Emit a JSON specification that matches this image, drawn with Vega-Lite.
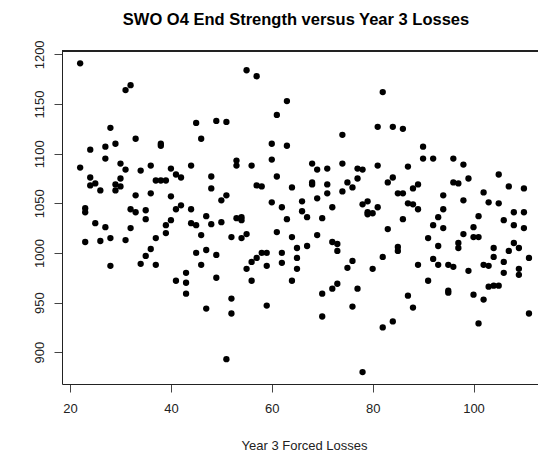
{
  "$schema": "https://vega.github.io/schema/vega-lite/v6.json",
  "width": 476,
  "height": 333,
  "autosize": {"type": "none"},
  "padding": {"left": 62, "top": 51, "right": 0, "bottom": 69},
  "background": "white",
  "title": {
    "text": "SWO O4 End Strength versus Year 3 Losses",
    "font": "Liberation Sans",
    "fontSize": 16.5,
    "fontWeight": "bold",
    "color": "#000000",
    "anchor": "middle",
    "baseline": "alphabetic",
    "offset": 16,
    "dx": -4,
    "dy": 18
  },
  "config": {
    "view": {"stroke": null},
    "axis": {
      "grid": false,
      "labelFont": "Liberation Sans",
      "labelFontSize": 13,
      "labelColor": "#222222",
      "titleFont": "Liberation Sans",
      "titleFontSize": 13,
      "titleFontWeight": "normal",
      "titleColor": "#222222",
      "domainColor": "#222222",
      "tickColor": "#444444",
      "tickSize": 8
    }
  },
  "data": {
    "values": [
      {"losses": 22, "strength": 1191}, {"losses": 31, "strength": 1164}, {"losses": 32, "strength": 1169},
      {"losses": 45, "strength": 1131}, {"losses": 46, "strength": 1115}, {"losses": 28, "strength": 1126},
      {"losses": 33, "strength": 1115}, {"losses": 24, "strength": 1104}, {"losses": 27, "strength": 1107},
      {"losses": 29, "strength": 1110}, {"losses": 38, "strength": 1110}, {"losses": 38, "strength": 1108},
      {"losses": 27, "strength": 1095}, {"losses": 22, "strength": 1086}, {"losses": 30, "strength": 1090},
      {"losses": 31, "strength": 1084}, {"losses": 34, "strength": 1083}, {"losses": 36, "strength": 1088},
      {"losses": 40, "strength": 1085}, {"losses": 41, "strength": 1079}, {"losses": 42, "strength": 1076},
      {"losses": 44, "strength": 1088}, {"losses": 24, "strength": 1076}, {"losses": 24, "strength": 1068},
      {"losses": 25, "strength": 1070}, {"losses": 26, "strength": 1063}, {"losses": 29, "strength": 1069},
      {"losses": 29, "strength": 1063}, {"losses": 30, "strength": 1075}, {"losses": 30, "strength": 1067},
      {"losses": 37, "strength": 1073}, {"losses": 38, "strength": 1073}, {"losses": 39, "strength": 1073},
      {"losses": 33, "strength": 1058}, {"losses": 36, "strength": 1060}, {"losses": 40, "strength": 1057},

      {"losses": 23, "strength": 1045}, {"losses": 23, "strength": 1041}, {"losses": 23, "strength": 1011},
      {"losses": 25, "strength": 1030}, {"losses": 26, "strength": 1012}, {"losses": 27, "strength": 1026},
      {"losses": 28, "strength": 1015}, {"losses": 28, "strength": 987}, {"losses": 31, "strength": 1013},
      {"losses": 32, "strength": 1044}, {"losses": 32, "strength": 1025}, {"losses": 33, "strength": 1041},
      {"losses": 35, "strength": 1043}, {"losses": 35, "strength": 1034}, {"losses": 34, "strength": 989},
      {"losses": 35, "strength": 997}, {"losses": 36, "strength": 1004}, {"losses": 37, "strength": 1015},
      {"losses": 37, "strength": 988}, {"losses": 39, "strength": 1028}, {"losses": 39, "strength": 1020},
      {"losses": 40, "strength": 1033}, {"losses": 41, "strength": 1044}, {"losses": 42, "strength": 1048},
      {"losses": 41, "strength": 972}, {"losses": 43, "strength": 980}, {"losses": 43, "strength": 970},
      {"losses": 43, "strength": 959}, {"losses": 44, "strength": 1044}, {"losses": 44, "strength": 1030},
      {"losses": 45, "strength": 1028}, {"losses": 46, "strength": 1018}, {"losses": 45, "strength": 1000},
      {"losses": 46, "strength": 988},

      {"losses": 55, "strength": 1184}, {"losses": 57, "strength": 1178}, {"losses": 63, "strength": 1153},
      {"losses": 61, "strength": 1139}, {"losses": 49, "strength": 1133}, {"losses": 51, "strength": 1132},
      {"losses": 74, "strength": 1119}, {"losses": 60, "strength": 1110}, {"losses": 63, "strength": 1108},
      {"losses": 53, "strength": 1093}, {"losses": 53, "strength": 1088}, {"losses": 56, "strength": 1088},
      {"losses": 60, "strength": 1094}, {"losses": 48, "strength": 1077}, {"losses": 48, "strength": 1065},
      {"losses": 51, "strength": 1058}, {"losses": 61, "strength": 1077}, {"losses": 57, "strength": 1068},
      {"losses": 58, "strength": 1067}, {"losses": 64, "strength": 1066}, {"losses": 68, "strength": 1090},
      {"losses": 69, "strength": 1084}, {"losses": 71, "strength": 1085}, {"losses": 74, "strength": 1090},
      {"losses": 77, "strength": 1085}, {"losses": 78, "strength": 1084}, {"losses": 77, "strength": 1075},
      {"losses": 75, "strength": 1071}, {"losses": 76, "strength": 1066}, {"losses": 74, "strength": 1062},
      {"losses": 68, "strength": 1071}, {"losses": 68, "strength": 1069}, {"losses": 71, "strength": 1069},
      {"losses": 71, "strength": 1060}, {"losses": 69, "strength": 1055},

      {"losses": 50, "strength": 1053}, {"losses": 60, "strength": 1051}, {"losses": 62, "strength": 1046},
      {"losses": 66, "strength": 1052}, {"losses": 72, "strength": 1046}, {"losses": 78, "strength": 1049},
      {"losses": 47, "strength": 1037}, {"losses": 48, "strength": 1029}, {"losses": 50, "strength": 1031},
      {"losses": 53, "strength": 1035}, {"losses": 54, "strength": 1036}, {"losses": 54, "strength": 1033},
      {"losses": 66, "strength": 1042}, {"losses": 67, "strength": 1036}, {"losses": 70, "strength": 1035},
      {"losses": 63, "strength": 1034}, {"losses": 52, "strength": 1016}, {"losses": 54, "strength": 1015},
      {"losses": 55, "strength": 1019}, {"losses": 61, "strength": 1021}, {"losses": 64, "strength": 1016},
      {"losses": 69, "strength": 1018}, {"losses": 72, "strength": 1011}, {"losses": 73, "strength": 1009},
      {"losses": 73, "strength": 1002}, {"losses": 67, "strength": 1007}, {"losses": 65, "strength": 1005},
      {"losses": 47, "strength": 1003}, {"losses": 49, "strength": 998}, {"losses": 49, "strength": 975},
      {"losses": 56, "strength": 991}, {"losses": 57, "strength": 995}, {"losses": 58, "strength": 1000},
      {"losses": 59, "strength": 1000}, {"losses": 55, "strength": 984}, {"losses": 56, "strength": 972},
      {"losses": 59, "strength": 987}, {"losses": 62, "strength": 1000}, {"losses": 62, "strength": 990},
      {"losses": 65, "strength": 995}, {"losses": 65, "strength": 984}, {"losses": 64, "strength": 972},
      {"losses": 76, "strength": 992}, {"losses": 75, "strength": 985}, {"losses": 77, "strength": 964},
      {"losses": 73, "strength": 969}, {"losses": 72, "strength": 964}, {"losses": 70, "strength": 959},
      {"losses": 76, "strength": 946}, {"losses": 70, "strength": 936}, {"losses": 52, "strength": 954},
      {"losses": 52, "strength": 939}, {"losses": 47, "strength": 944}, {"losses": 59, "strength": 947},
      {"losses": 51, "strength": 893}, {"losses": 78, "strength": 880},

      {"losses": 82, "strength": 1162}, {"losses": 81, "strength": 1127}, {"losses": 84, "strength": 1127},
      {"losses": 86, "strength": 1125}, {"losses": 90, "strength": 1107}, {"losses": 90, "strength": 1095},
      {"losses": 92, "strength": 1095}, {"losses": 96, "strength": 1095}, {"losses": 98, "strength": 1089},
      {"losses": 81, "strength": 1088}, {"losses": 87, "strength": 1087}, {"losses": 99, "strength": 1075},
      {"losses": 105, "strength": 1079}, {"losses": 107, "strength": 1067}, {"losses": 110, "strength": 1065},
      {"losses": 84, "strength": 1076}, {"losses": 83, "strength": 1071}, {"losses": 96, "strength": 1071},
      {"losses": 97, "strength": 1070}, {"losses": 88, "strength": 1065}, {"losses": 89, "strength": 1069},
      {"losses": 85, "strength": 1060}, {"losses": 86, "strength": 1060}, {"losses": 94, "strength": 1058},
      {"losses": 102, "strength": 1061},

      {"losses": 79, "strength": 1052}, {"losses": 79, "strength": 1041}, {"losses": 79, "strength": 1039},
      {"losses": 80, "strength": 1040}, {"losses": 81, "strength": 1046}, {"losses": 87, "strength": 1050},
      {"losses": 88, "strength": 1049}, {"losses": 89, "strength": 1044}, {"losses": 98, "strength": 1053},
      {"losses": 103, "strength": 1051}, {"losses": 105, "strength": 1050}, {"losses": 108, "strength": 1041},
      {"losses": 110, "strength": 1041}, {"losses": 94, "strength": 1044}, {"losses": 93, "strength": 1036},
      {"losses": 92, "strength": 1028}, {"losses": 94, "strength": 1025}, {"losses": 86, "strength": 1034},
      {"losses": 83, "strength": 1024}, {"losses": 101, "strength": 1037}, {"losses": 106, "strength": 1033},
      {"losses": 108, "strength": 1028}, {"losses": 110, "strength": 1025}, {"losses": 100, "strength": 1026},
      {"losses": 98, "strength": 1019}, {"losses": 100, "strength": 1016}, {"losses": 101, "strength": 1016},
      {"losses": 91, "strength": 1015}, {"losses": 97, "strength": 1010}, {"losses": 97, "strength": 1005},
      {"losses": 93, "strength": 1007}, {"losses": 85, "strength": 1006}, {"losses": 85, "strength": 1002},
      {"losses": 82, "strength": 996}, {"losses": 80, "strength": 984}, {"losses": 89, "strength": 988},
      {"losses": 92, "strength": 994}, {"losses": 93, "strength": 988}, {"losses": 95, "strength": 988},
      {"losses": 96, "strength": 986}, {"losses": 99, "strength": 982}, {"losses": 104, "strength": 1005},
      {"losses": 104, "strength": 996}, {"losses": 102, "strength": 988}, {"losses": 103, "strength": 987},
      {"losses": 108, "strength": 1010}, {"losses": 109, "strength": 1005}, {"losses": 107, "strength": 1002},
      {"losses": 106, "strength": 991}, {"losses": 106, "strength": 980}, {"losses": 109, "strength": 984},
      {"losses": 109, "strength": 978}, {"losses": 111, "strength": 995}, {"losses": 91, "strength": 972},
      {"losses": 95, "strength": 962}, {"losses": 95, "strength": 960}, {"losses": 87, "strength": 957},
      {"losses": 88, "strength": 945}, {"losses": 100, "strength": 958}, {"losses": 102, "strength": 953},
      {"losses": 103, "strength": 966}, {"losses": 104, "strength": 967}, {"losses": 105, "strength": 967},
      {"losses": 111, "strength": 939}, {"losses": 82, "strength": 925}, {"losses": 84, "strength": 931},
      {"losses": 101, "strength": 929}
    ]
  },
  "layer": [
    {
      "mark": {"type": "circle", "size": 40, "color": "#000000", "opacity": 1},
      "encoding": {
        "x": {
          "field": "losses",
          "type": "quantitative",
          "scale": {"domain": [18.4, 112.79], "nice": false, "zero": false},
          "axis": {
            "values": [20, 40, 60, 80, 100],
            "labelPadding": 10,
            "title": "Year 3 Forced Losses",
            "titlePadding": 24,
            "titleX": 242
          }
        },
        "y": {
          "field": "strength",
          "type": "quantitative",
          "scale": {"domain": [868, 1203.4], "nice": false, "zero": false},
          "axis": {
            "values": [900, 950, 1000, 1050, 1100, 1150, 1200],
            "format": "d",
            "labelAngle": -90,
            "labelAlign": "center",
            "labelBaseline": "alphabetic",
            "labelPadding": 11,
            "title": null
          }
        }
      }
    },
    {
      "mark": {"type": "rule", "color": "#222222", "strokeWidth": 1},
      "encoding": {"y": {"datum": 1203.4}}
    }
  ]
}
